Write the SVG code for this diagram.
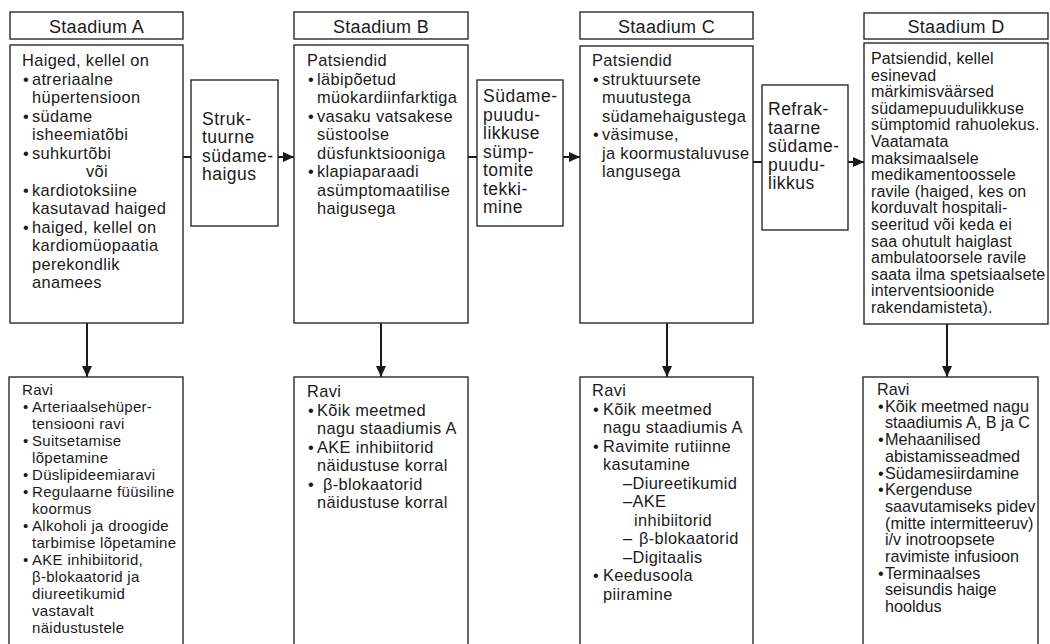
<svg xmlns="http://www.w3.org/2000/svg" width="1050" height="644" viewBox="0 0 1050 644">
<style>
.box{fill:#fff;stroke:#2a2a2a;stroke-width:1.4}
.t{font-family:"Liberation Sans",Arial,sans-serif;font-size:16.4px;fill:#1a1a1a;letter-spacing:0.35px}
.h{font-size:18px;letter-spacing:0.3px;text-anchor:middle}
.c{font-size:17.5px;letter-spacing:0.5px}
.d{font-size:16px;letter-spacing:0.15px}
.ra{font-size:15px;letter-spacing:0.3px}
.rd{font-size:16.2px;letter-spacing:0}
.ln{stroke:#1a1a1a;stroke-width:2;fill:none}
</style>
<defs>
<marker id="ah" markerUnits="userSpaceOnUse" markerWidth="11" markerHeight="10" refX="11" refY="5" orient="auto">
<path d="M0,0 L11,5 L0,10 z" fill="#1a1a1a"/>
</marker>
</defs>

<g id="connectors">
<line class="ln" x1="183" y1="157" x2="191" y2="157"/>
<line class="ln" x1="278" y1="157" x2="294" y2="157" marker-end="url(#ah)"/>
<line class="ln" x1="468" y1="157" x2="477" y2="157"/>
<line class="ln" x1="563" y1="157" x2="580" y2="157" marker-end="url(#ah)"/>
<line class="ln" x1="753" y1="162" x2="762" y2="162"/>
<line class="ln" x1="848" y1="162" x2="864" y2="162" marker-end="url(#ah)"/>
<line class="ln" x1="87" y1="323" x2="87" y2="377" marker-end="url(#ah)"/>
<line class="ln" x1="381" y1="323" x2="381" y2="377" marker-end="url(#ah)"/>
<line class="ln" x1="667" y1="323" x2="667" y2="377" marker-end="url(#ah)"/>
<line class="ln" x1="947" y1="324" x2="947" y2="377" marker-end="url(#ah)"/>
</g>

<g id="headerA"><rect class="box" x="10" y="12" width="173" height="27"/><text class="t h" x="96.5" y="33">Staadium A</text></g>
<g id="headerB"><rect class="box" x="294" y="12" width="174" height="27"/><text class="t h" x="381" y="33">Staadium B</text></g>
<g id="headerC"><rect class="box" x="580" y="12" width="173" height="27"/><text class="t h" x="666.5" y="33">Staadium C</text></g>
<g id="headerD"><rect class="box" x="864" y="13" width="184" height="26"/><text class="t h" x="956" y="33">Staadium D</text></g>

<g id="stageA">
<rect class="box" x="10" y="45" width="173" height="278"/>
<text class="t">
<tspan x="22" y="66">Haiged, kellel on</tspan>
<tspan x="23" y="84.5">•</tspan><tspan x="32" y="84.5">atreriaalne</tspan>
<tspan x="32" y="103">hüpertensioon</tspan>
<tspan x="23" y="121.5">•</tspan><tspan x="32" y="121.5">südame</tspan>
<tspan x="32" y="140">isheemiatõbi</tspan>
<tspan x="23" y="158.5">•</tspan><tspan x="32" y="158.5">suhkurtõbi</tspan>
<tspan x="86" y="177">või</tspan>
<tspan x="23" y="195.5">•</tspan><tspan x="32" y="195.5">kardiotoksiine</tspan>
<tspan x="32" y="214">kasutavad haiged</tspan>
<tspan x="23" y="232.5">•</tspan><tspan x="32" y="232.5">haiged, kellel on</tspan>
<tspan x="32" y="251">kardiomüopaatia</tspan>
<tspan x="32" y="269.5">perekondlik</tspan>
<tspan x="32" y="288">anamees</tspan>
</text>
</g>

<g id="transitionAB">
<rect class="box" x="191" y="80" width="87" height="146"/>
<text class="t c">
<tspan x="202" y="124.5">Struk-</tspan>
<tspan x="202" y="143">tuurne</tspan>
<tspan x="202" y="161.5">südame-</tspan>
<tspan x="202" y="180">haigus</tspan>
</text>
</g>

<g id="stageB">
<rect class="box" x="294" y="45" width="174" height="278"/>
<text class="t">
<tspan x="307" y="66">Patsiendid</tspan>
<tspan x="308" y="84.5">•</tspan><tspan x="317" y="84.5">läbipõetud</tspan>
<tspan x="317" y="103">müokardiinfarktiga</tspan>
<tspan x="308" y="121.5">•</tspan><tspan x="317" y="121.5">vasaku vatsakese</tspan>
<tspan x="317" y="140">süstoolse</tspan>
<tspan x="317" y="158.5">düsfunktsiooniga</tspan>
<tspan x="308" y="177">•</tspan><tspan x="317" y="177">klapiaparaadi</tspan>
<tspan x="317" y="195.5">asümptomaatilise</tspan>
<tspan x="317" y="214">haigusega</tspan>
</text>
</g>

<g id="transitionBC">
<rect class="box" x="477" y="80" width="86" height="146"/>
<text class="t c">
<tspan x="483" y="102">Südame-</tspan>
<tspan x="483" y="120.5">puudu-</tspan>
<tspan x="483" y="139">likkuse</tspan>
<tspan x="483" y="157.5">sümp-</tspan>
<tspan x="483" y="176">tomite</tspan>
<tspan x="483" y="194.5">tekki-</tspan>
<tspan x="483" y="213">mine</tspan>
</text>
</g>

<g id="stageC">
<rect class="box" x="580" y="46" width="173" height="277"/>
<text class="t">
<tspan x="592" y="66">Patsiendid</tspan>
<tspan x="593" y="84.5">•</tspan><tspan x="602" y="84.5">struktuursete</tspan>
<tspan x="602" y="103">muutustega</tspan>
<tspan x="602" y="121.5">südamehaigustega</tspan>
<tspan x="593" y="140">•</tspan><tspan x="602" y="140">väsimuse,</tspan>
<tspan x="602" y="158.5">ja koormustaluvuse</tspan>
<tspan x="602" y="177">langusega</tspan>
</text>
</g>

<g id="transitionCD">
<rect class="box" x="762" y="85" width="86" height="145"/>
<text class="t c">
<tspan x="768" y="115">Refrak-</tspan>
<tspan x="768" y="133.5">taarne</tspan>
<tspan x="768" y="152">südame-</tspan>
<tspan x="768" y="170.5">puudu-</tspan>
<tspan x="768" y="189">likkus</tspan>
</text>
</g>

<g id="stageD">
<rect class="box" x="864" y="43" width="184" height="281"/>
<text class="t d">
<tspan x="871" y="64">Patsiendid, kellel</tspan>
<tspan x="871" y="80.6">esinevad</tspan>
<tspan x="871" y="97.2">märkimisväärsed</tspan>
<tspan x="871" y="113.8">südamepuudulikkuse</tspan>
<tspan x="871" y="130.4">sümptomid rahuolekus.</tspan>
<tspan x="871" y="147">Vaatamata</tspan>
<tspan x="871" y="163.6">maksimaalsele</tspan>
<tspan x="871" y="180.2">medikamentoossele</tspan>
<tspan x="871" y="196.8">ravile (haiged, kes on</tspan>
<tspan x="871" y="213.4">korduvalt hospitali-</tspan>
<tspan x="871" y="230">seeritud või keda ei</tspan>
<tspan x="871" y="246.6">saa ohutult haiglast</tspan>
<tspan x="871" y="263.2">ambulatoorsele ravile</tspan>
<tspan x="871" y="279.8">saata ilma spetsiaalsete</tspan>
<tspan x="871" y="296.4">interventsioonide</tspan>
<tspan x="871" y="313">rakendamisteta).</tspan>
</text>
</g>

<g id="raviA">
<rect class="box" x="9" y="377" width="174" height="290"/>
<text class="t ra">
<tspan x="22" y="395">Ravi</tspan>
<tspan x="23" y="412">•</tspan><tspan x="32" y="412">Arteriaalsehüper-</tspan>
<tspan x="32" y="429">tensiooni ravi</tspan>
<tspan x="23" y="446">•</tspan><tspan x="32" y="446">Suitsetamise</tspan>
<tspan x="32" y="463">lõpetamine</tspan>
<tspan x="23" y="480">•</tspan><tspan x="32" y="480">Düslipideemiaravi</tspan>
<tspan x="23" y="497">•</tspan><tspan x="32" y="497">Regulaarne füüsiline</tspan>
<tspan x="32" y="514">koormus</tspan>
<tspan x="23" y="531">•</tspan><tspan x="32" y="531">Alkoholi ja droogide</tspan>
<tspan x="32" y="548">tarbimise lõpetamine</tspan>
<tspan x="23" y="565">•</tspan><tspan x="32" y="565">AKE inhibiitorid,</tspan>
<tspan x="32" y="582">β-blokaatorid ja</tspan>
<tspan x="32" y="599">diureetikumid</tspan>
<tspan x="32" y="616">vastavalt</tspan>
<tspan x="32" y="633">näidustustele</tspan>
</text>
</g>

<g id="raviB">
<rect class="box" x="294" y="377" width="174" height="290"/>
<text class="t">
<tspan x="307" y="397">Ravi</tspan>
<tspan x="308" y="415.5">•</tspan><tspan x="317" y="415.5">Kõik meetmed</tspan>
<tspan x="317" y="434">nagu staadiumis A</tspan>
<tspan x="308" y="452.5">•</tspan><tspan x="317" y="452.5">AKE inhibiitorid</tspan>
<tspan x="317" y="471">näidustuse korral</tspan>
<tspan x="308" y="489.5">•</tspan><tspan x="323" y="489.5">β-blokaatorid</tspan>
<tspan x="317" y="508">näidustuse korral</tspan>
</text>
</g>

<g id="raviC">
<rect class="box" x="580" y="377" width="173" height="290"/>
<text class="t">
<tspan x="592" y="396">Ravi</tspan>
<tspan x="593" y="414.5">•</tspan><tspan x="603" y="414.5">Kõik meetmed</tspan>
<tspan x="603" y="433">nagu staadiumis A</tspan>
<tspan x="593" y="451.5">•</tspan><tspan x="603" y="451.5">Ravimite rutiinne</tspan>
<tspan x="603" y="470">kasutamine</tspan>
<tspan x="623" y="488.5">–Diureetikumid</tspan>
<tspan x="623" y="507">–AKE</tspan>
<tspan x="634" y="525.5">inhibiitorid</tspan>
<tspan x="623" y="544">–</tspan><tspan x="639" y="544">β-blokaatorid</tspan>
<tspan x="623" y="562.5">–Digitaalis</tspan>
<tspan x="593" y="581">•</tspan><tspan x="603" y="581">Keedusoola</tspan>
<tspan x="603" y="599.5">piiramine</tspan>
</text>
</g>

<g id="raviD">
<rect class="box" x="863" y="377" width="175" height="290"/>
<text class="t rd">
<tspan x="877" y="395">Ravi</tspan>
<tspan x="878" y="411.7">•</tspan><tspan x="885" y="411.7">Kõik meetmed nagu</tspan>
<tspan x="885" y="428.4">staadiumis A, B ja C</tspan>
<tspan x="878" y="445.1">•</tspan><tspan x="885" y="445.1">Mehaanilised</tspan>
<tspan x="885" y="461.8">abistamisseadmed</tspan>
<tspan x="878" y="478.5">•</tspan><tspan x="885" y="478.5">Südamesiirdamine</tspan>
<tspan x="878" y="495.2">•</tspan><tspan x="885" y="495.2">Kergenduse</tspan>
<tspan x="885" y="511.9">saavutamiseks pidev</tspan>
<tspan x="885" y="528.6">(mitte intermitteeruv)</tspan>
<tspan x="885" y="545.3">i/v inotroopsete</tspan>
<tspan x="885" y="562">ravimiste infusioon</tspan>
<tspan x="878" y="578.7">•</tspan><tspan x="885" y="578.7">Terminaalses</tspan>
<tspan x="885" y="595.4">seisundis haige</tspan>
<tspan x="885" y="612.1">hooldus</tspan>
</text>
</g>
</svg>
